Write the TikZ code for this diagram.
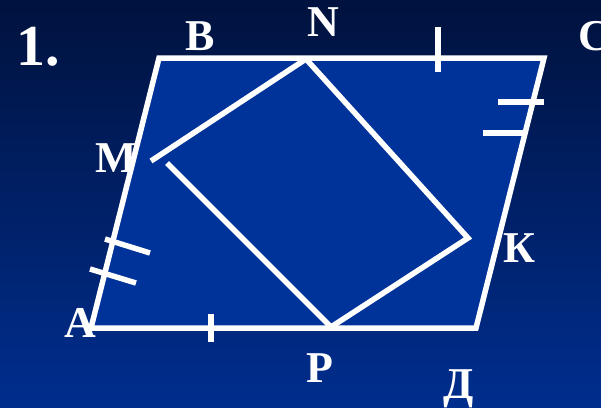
\documentclass[tikz,border=0pt]{standalone}
\usepackage{fontspec}
\setmainfont{Liberation Serif}
\usetikzlibrary{positioning}
\definecolor{bgtop}{RGB}{0,18,62}
\definecolor{bgbot}{RGB}{0,46,142}
\definecolor{figfill}{RGB}{0,51,153}

\begin{document}
\begin{tikzpicture}[x=1pt, y=-1pt,
  side/.style={white, line width=5.5pt},
  tick/.style={white, line width=5.5pt},
  lbl/.style={text=white, anchor=base, inner sep=0pt, font=\fontsize{44}{44}\selectfont\bfseries}]
  \clip (0,0) rectangle (601,407);
  \fill[top color=bgtop, bottom color=bgbot] (0,0) rectangle (601,407);

  % vertices
  \coordinate (A) at (91,328);
  \coordinate (B) at (159,58);
  \coordinate (C) at (544,58);
  \coordinate (D) at (476,328);
  \coordinate (N) at (306,59);
  \coordinate (M1) at (151,161);
  \coordinate (M2) at (167,163);
  \coordinate (P) at (331,327);
  \coordinate (K) at (468,238);

  % labels
  \node[lbl, font=\fontsize{58}{58}\selectfont\bfseries] (num) at (38,65) {1.};
  \node[lbl] (lB) at (200,50) {B};
  \node[lbl] (lN) at (323,36) {N};
  \node[lbl] (lC) at (594,50) {C};
  \node[lbl] (lM) at (116,172) {M};
  \node[lbl] (lK) at (519,262) {К};
  \node[lbl] (lA) at (80,337) {A};
  \node[lbl] (lP) at (320,382) {P};
  \node[lbl] (lD) at (459,398) {Д};

  % parallelogram and inner figure
  \filldraw[side, fill=figfill] (A) -- (B) -- (C) -- (D) -- cycle;
  \draw[side] (N) -- (M1);
  \draw[side] (M2) -- (P) -- (K) -- (N);

  % equal segment marks
  \draw[tick] (438,27) -- (438,72);
  \draw[tick] (211,314) -- (211,342);
  \draw[tick] (498,102) -- (544,102);
  \draw[tick] (483,133) -- (526,133);
  \draw[tick] (105,239) -- (150,253);
  \draw[tick] (90,269) -- (136,283);
\end{tikzpicture}
\end{document}
